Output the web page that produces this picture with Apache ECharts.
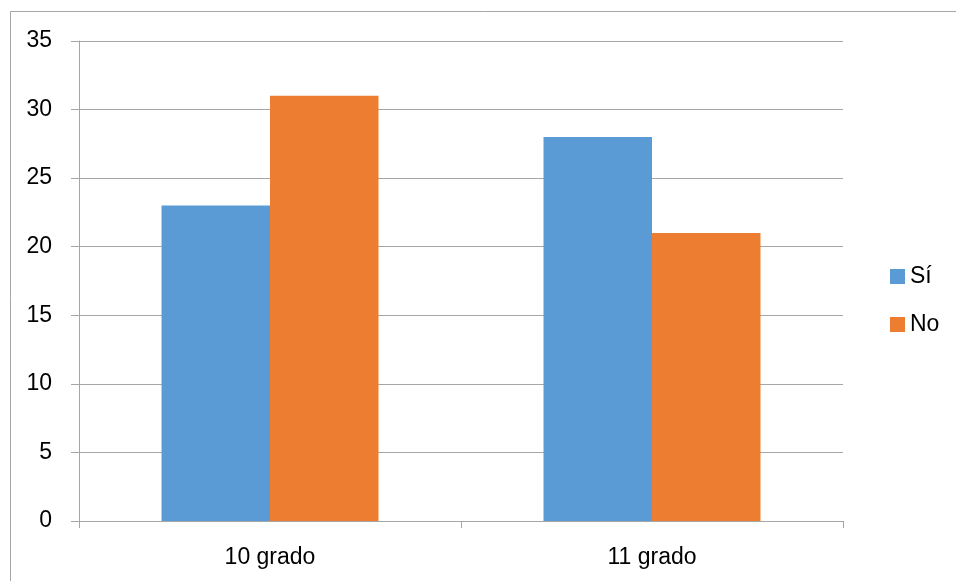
<!DOCTYPE html>
<html><head><meta charset="utf-8">
<script src="https://cdn.jsdelivr.net/npm/echarts@6/dist/echarts.min.js"></script>
<style>html,body{margin:0;padding:0;background:#fff}#c{width:956px;height:581px}</style>
</head><body><div id="c"></div>
<script>
const categories = ['10 grado', '11 grado'];
const seriesNames = ['Sí', 'No'];
const siValues = [23, 28];
const noValues = [31, 21];
const yTicks = [0, 5, 10, 15, 20, 25, 30, 35];

const chart = echarts.init(document.getElementById('c'), null, {renderer: 'canvas'});
const font = 'Liberation Sans';
chart.setOption({
  animation: false,
  backgroundColor: '#fff',
  graphic: [{
    type: 'rect', shape: {x: 10.5, y: 11.5, width: 960, height: 600},
    style: {fill: 'none', stroke: '#a6a6a6', lineWidth: 1}, silent: true
  }],
  grid: {left: 79, top: 41, right: 113, bottom: 60, containLabel: false},
  legend: {
    orient: 'vertical', left: 885, top: 260, itemWidth: 15, itemHeight: 15, itemGap: 25,
    icon: 'rect', data: seriesNames,
    textStyle: {fontFamily: font, fontSize: 23, color: '#000'}
  },
  xAxis: {
    type: 'category', data: categories,
    axisLine: {lineStyle: {color: '#a6a6a6', width: 1}},
    axisTick: {show: true, length: 7, lineStyle: {color: '#a6a6a6'}},
    axisLabel: {fontFamily: font, fontSize: 23, color: '#000', margin: 25}
  },
  yAxis: {
    type: 'value', min: yTicks[0], max: yTicks[yTicks.length - 1], interval: 5,
    axisLine: {show: true, lineStyle: {color: '#a6a6a6', width: 1}},
    axisTick: {show: true, length: 8, lineStyle: {color: '#a6a6a6'}},
    splitLine: {lineStyle: {color: '#a6a6a6', width: 1}},
    axisLabel: {fontFamily: font, fontSize: 23, color: '#000', margin: 27}
  },
  series: [
    {name: seriesNames[0], type: 'bar', data: siValues, barWidth: '28.4%', barGap: '0%', itemStyle: {color: '#5b9bd5'}},
    {name: seriesNames[1], type: 'bar', data: noValues, barWidth: '28.4%', barGap: '0%', itemStyle: {color: '#ed7d31'}}
  ]
});
</script></body></html>
